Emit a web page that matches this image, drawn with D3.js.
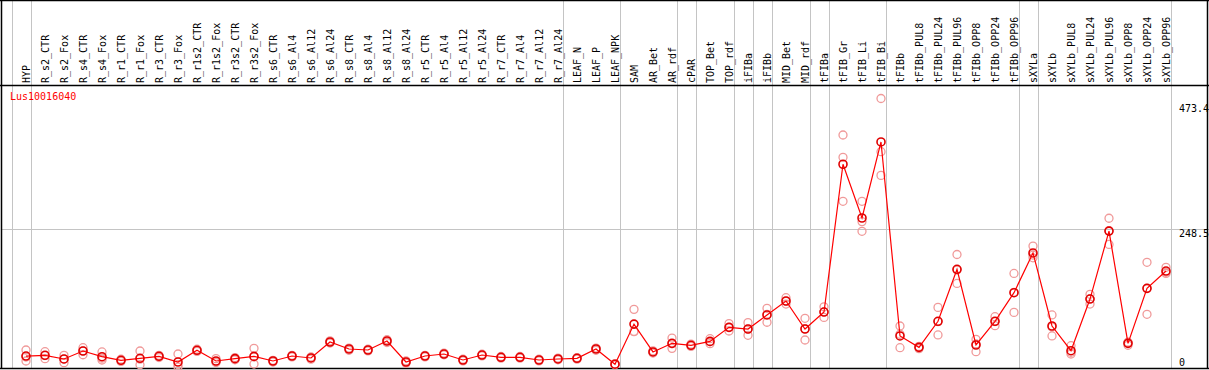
<!DOCTYPE html>
<html><head><meta charset="utf-8">
<script src="https://cdn.jsdelivr.net/npm/d3@7"></script>
<style>body{margin:0;background:#fff}svg{display:block}text{font-family:"DejaVu Sans Mono",monospace;font-size:10px}</style>
</head><body><svg id="c" width="1209" height="370"></svg>
<script>
const categories = ["HYP","R_s2_CTR","R_s2_Fox","R_s4_CTR","R_s4_Fox","R_r1_CTR","R_r1_Fox","R_r3_CTR","R_r3_Fox","R_r1s2_CTR","R_r1s2_Fox","R_r3s2_CTR","R_r3s2_Fox","R_s6_CTR","R_s6_Al4","R_s6_Al12","R_s6_Al24","R_s8_CTR","R_s8_Al4","R_s8_Al12","R_s8_Al24","R_r5_CTR","R_r5_Al4","R_r5_Al12","R_r5_Al24","R_r7_CTR","R_r7_Al4","R_r7_Al12","R_r7_Al24","LEAF_N","LEAF_P","LEAF_NPK","SAM","AR_Bet","AR_rdf","cPAR","TOP_Bet","TOP_rdf","iFIBa","iFIBb","MID_Bet","MID_rdf","tFIBa","tFIB_Gr","tFIB_Li","tFIB_Bi","tFIBb","tFIBb_PUL8","tFIBb_PUL24","tFIBb_PUL96","tFIBb_OPP8","tFIBb_OPP24","tFIBb_OPP96","sXYLa","sXYLb","sXYLb_PUL8","sXYLb_PUL24","sXYLb_PUL96","sXYLb_OPP8","sXYLb_OPP24","sXYLb_OPP96"];
const means = [19.7,21,14.4,28.7,18.5,12,15.6,19.2,9,30,10.8,15,19,10.8,19.7,16.2,44.9,32.3,30.5,46.7,9,19.7,23.3,12.6,21.5,17.4,17.4,12.6,14.4,15.6,32.3,5,77,27,42.5,39,46,71.2,68.2,93.4,118.5,68.2,98.7,364,267.5,404,55.7,35.3,82,175.4,39.5,82,133.4,204.7,73.6,29.3,122,244,42.5,141.2,172.3];
const rep1 = [30.5,27.5,21,34.7,27,14,28.7,21,23.3,32,15,17,33.5,12,21,18,47,34,32,49,11,21,25,14,23,19,19,14,16,17,34,6,103.5,29,52,41,50.8,77.8,79.6,105.4,124.4,87.4,108,416.5,297.5,482,73.6,36,107,202,49.7,90.3,168,217,93.4,38.2,130.5,267,44,188,179];
const rep2 = [10.8,15,7.8,22,12.6,10,4,17,0,28,8,13,5.4,9,18,14,43,30,29,44,7,18,22,11,20,16,16,11,13,14,30,4,63.4,25,33.5,37,41.9,64.6,56.9,80.3,113,48.5,89,376.5,261,386.5,34.7,33,57.5,150,27.5,74.1,98,196,55.7,23.3,113,220,39,94.6,168];
const rep3 = [17.8,20.5,14,29,16,12,14,19.6,4,30,9.4,15,18,11.4,20,16.6,44.7,33,30.5,47,9,20,23,12.8,21.5,17.2,17.2,12.8,14.2,15.8,33,5,64,27,42,39,45.3,71.2,68.1,94.5,118,68.7,99,297.5,243.6,344,58.8,37,81.5,174,41.3,81.6,134,201,71.7,26.4,122.5,245,44.5,141,170];
const separatorsAfter = [-1,0,28,31,34,35,37,38,39,41,42,45,52,53,60];
const yTicks = [473.4, 248.5, 0];
const gridValues = [248.5];
const geneLabel = "Lus10016040";

const svg = d3.select("#c");
const W = 1209;
const x = d3.scalePoint().domain(categories).range([26, 1166]);
const step = x.step();
const y = d3.scaleLinear().domain([0, 473.4]).range([367, 103.3]);

// vertical separators
const sepX = i => (i < 0 ? x(categories[0]) - step : x(categories[i])) + 4.5;
svg.append("g").selectAll("line").data(separatorsAfter).join("line")
  .attr("x1", d => Math.round(sepX(d)) + 0.5).attr("x2", d => Math.round(sepX(d)) + 0.5)
  .attr("y1", 0).attr("y2", 369).attr("stroke", "#c4c4c4").attr("stroke-width", 1);
// horizontal grid
svg.append("g").selectAll("line").data(gridValues).join("line")
  .attr("x1", 1).attr("x2", W).attr("y1", d => Math.round(y(d)) + 0.5).attr("y2", d => Math.round(y(d)) + 0.5)
  .attr("stroke", "#c4c4c4");

// frame
const frame = svg.append("g").attr("stroke", "#000").attr("stroke-width", 1.5);
frame.append("line").attr("x1", 0).attr("x2", W).attr("y1", 0.5).attr("y2", 0.5);
frame.append("line").attr("x1", 1.5).attr("x2", 1.5).attr("y1", 0).attr("y2", 369);
frame.append("line").attr("x1", 1207.5).attr("x2", 1207.5).attr("y1", 0).attr("y2", 369);
frame.append("line").attr("x1", 0).attr("x2", W).attr("y1", 85.5).attr("y2", 85.5);
frame.append("line").attr("x1", 0).attr("x2", W).attr("y1", 368.5).attr("y2", 368.5);

// column labels
svg.append("g").selectAll("text").data(categories).join("text")
  .attr("transform", d => `translate(${x(d) + 4},83) rotate(-90)`)
  .attr("text-anchor", "start").attr("fill", "#000").text(d => d);

// y tick labels
svg.append("g").selectAll("text").data(yTicks).join("text")
  .attr("x", 1179).attr("y", d => d === 0 ? 366 : y(d) + 8.5)
  .attr("fill", "#000").text(d => d);

svg.append("text").attr("x", 10).attr("y", 100).attr("fill", "#ff0000").text(geneLabel);

// replicates
const reps = [];
categories.forEach((c, i) => { [rep1[i], rep2[i], rep3[i]].forEach(v => reps.push({c, v})); });
svg.append("g").selectAll("circle").data(reps).join("circle")
  .attr("cx", d => x(d.c)).attr("cy", d => y(d.v)).attr("r", 4)
  .attr("fill", "none").attr("stroke", "#f09a9a").attr("stroke-width", 1.3);

// mean line
const line = d3.line().x((d, i) => x(categories[i])).y(d => y(d));
svg.append("path").datum(means).attr("d", line).attr("fill", "none")
  .attr("stroke", "#ff0000").attr("stroke-width", 1.2);
svg.append("g").selectAll("circle").data(means).join("circle")
  .attr("cx", (d, i) => x(categories[i])).attr("cy", d => y(d)).attr("r", 4)
  .attr("fill", "none").attr("stroke", "#e00000").attr("stroke-width", 1.6);
</script></body></html>
